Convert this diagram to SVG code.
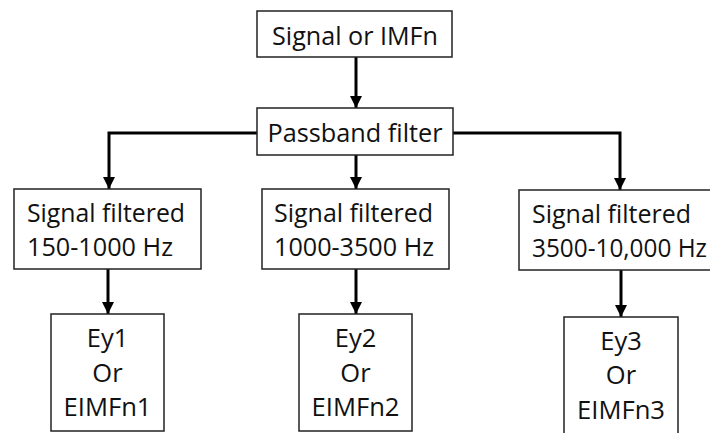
<svg xmlns="http://www.w3.org/2000/svg" width="710" height="433" viewBox="0 0 710 433">
<style>
.box{fill:#fff;stroke:#222;stroke-width:1.5}
.t{font-family:"Open Sans","Noto Sans",sans-serif;font-size:25.5px;fill:#111}
.c{text-anchor:middle}
.ln{fill:none;stroke:#000;stroke-width:3;marker-end:url(#ah)}
</style>
<defs>
<marker id="ah" viewBox="0 0 10 10" refX="10" refY="5" markerWidth="4" markerHeight="4" markerUnits="strokeWidth" orient="auto">
<path d="M0,0 L10,5 L0,10 Z" fill="#000"/>
</marker>
</defs>
<rect width="710" height="433" fill="#fff"/>
<g id="connectors">
<path class="ln" d="M356,57 V108"/>
<path class="ln" d="M257,133 H109 V189"/>
<path class="ln" d="M356,155 V189"/>
<path class="ln" d="M453,133 H620 V190"/>
<path class="ln" d="M108,269 V314"/>
<path class="ln" d="M356,269 V314"/>
<path class="ln" d="M621,270 V317"/>
</g>
<g id="n_signal">
<rect class="box" x="257" y="11" width="195" height="46"/>
<text class="t c" x="355" y="45" textLength="166" lengthAdjust="spacingAndGlyphs">Signal or IMFn</text>
</g>
<g id="n_passband">
<rect class="box" x="257" y="108" width="196" height="47"/>
<text class="t c" x="355" y="142" textLength="175" lengthAdjust="spacingAndGlyphs">Passband filter</text>
</g>
<g id="n_f1">
<rect class="box" x="14" y="189" width="187" height="80"/>
<text class="t" x="27" y="222" textLength="158" lengthAdjust="spacingAndGlyphs">Signal filtered</text>
<text class="t" x="27" y="256" textLength="146" lengthAdjust="spacingAndGlyphs">150-1000 Hz</text>
</g>
<g id="n_f2">
<rect class="box" x="262" y="189" width="187" height="80"/>
<text class="t" x="274" y="222" textLength="159" lengthAdjust="spacingAndGlyphs">Signal filtered</text>
<text class="t" x="274" y="256" textLength="160" lengthAdjust="spacingAndGlyphs">1000-3500 Hz</text>
</g>
<g id="n_f3">
<rect class="box" x="519" y="190" width="200" height="80"/>
<text class="t" x="532" y="223" textLength="159" lengthAdjust="spacingAndGlyphs">Signal filtered</text>
<text class="t" x="532" y="257" textLength="175" lengthAdjust="spacingAndGlyphs">3500-10,000 Hz</text>
</g>
<g id="n_e1">
<rect class="box" x="51" y="314" width="113" height="117"/>
<text class="t c" x="107.5" y="347">Ey1</text>
<text class="t c" x="107.5" y="382">Or</text>
<text class="t c" x="107.5" y="416" textLength="88" lengthAdjust="spacingAndGlyphs">EIMFn1</text>
</g>
<g id="n_e2">
<rect class="box" x="299" y="314" width="113" height="117"/>
<text class="t c" x="355.5" y="347">Ey2</text>
<text class="t c" x="355.5" y="382">Or</text>
<text class="t c" x="355.5" y="416" textLength="88" lengthAdjust="spacingAndGlyphs">EIMFn2</text>
</g>
<g id="n_e3">
<rect class="box" x="564" y="317" width="114" height="125"/>
<text class="t c" x="621" y="350">Ey3</text>
<text class="t c" x="621" y="384">Or</text>
<text class="t c" x="621" y="419" textLength="88" lengthAdjust="spacingAndGlyphs">EIMFn3</text>
</g>
</svg>
